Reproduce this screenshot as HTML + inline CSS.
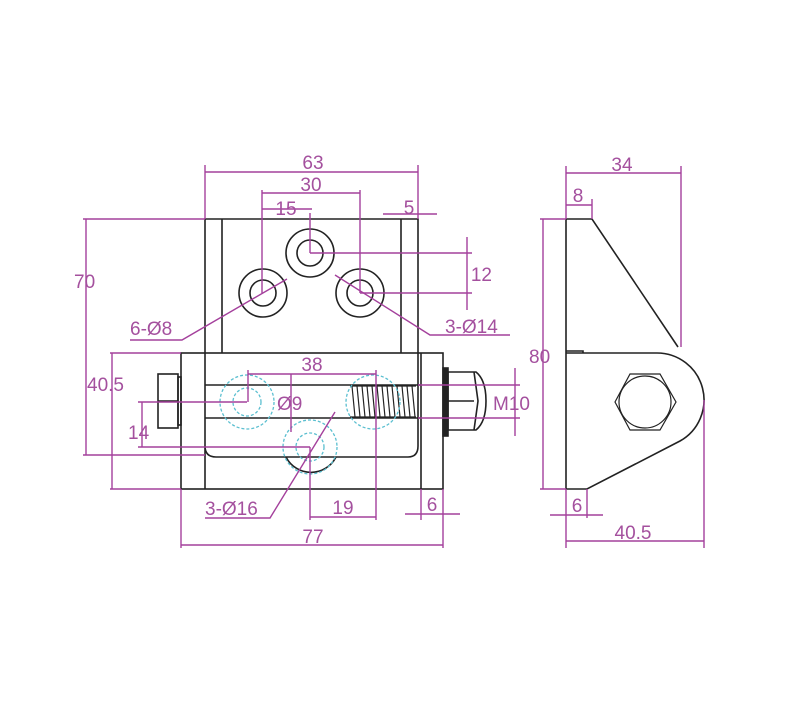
<!DOCTYPE html>
<html><head><style>
html,body{margin:0;padding:0;background:#fff;}
svg{display:block;}
text{font-family:"Liberation Sans",sans-serif;font-size:19px;fill:#a4509e;}
.d{stroke:#a4409c;stroke-width:1.4;fill:none;}
.k{stroke:#222;stroke-width:1.6;fill:none;}
.b{stroke:#5bbfd0;stroke-width:1.3;fill:none;stroke-dasharray:3 2;}
</style></head><body>
<svg width="800" height="720" viewBox="0 0 800 720" xmlns="http://www.w3.org/2000/svg">
<g class="k">
<path d="M205 353 V219 H418 V353"/>
<line x1="222" y1="219" x2="222" y2="353"/>
<line x1="401" y1="219" x2="401" y2="353"/>
<circle cx="310" cy="253" r="24"/><circle cx="310" cy="253" r="13"/>
<circle cx="263" cy="293" r="24"/><circle cx="263" cy="293" r="13"/>
<circle cx="360" cy="293" r="24"/><circle cx="360" cy="293" r="13"/>
<rect x="181" y="353" width="262" height="136"/>
<line x1="205" y1="353" x2="205" y2="489"/>
<line x1="421" y1="353" x2="421" y2="489"/>
<path d="M205 446 Q205 457 216 457 H408 Q418 457 418 446 V353"/>
<line x1="205" y1="385" x2="421" y2="385"/>
<line x1="205" y1="418" x2="421" y2="418"/>
<path d="M286 457 A28 28 0 0 0 336 457"/>
<rect x="158" y="374" width="20" height="54"/>
<line x1="158" y1="401" x2="178" y2="401"/>
<rect x="178" y="377" width="3" height="48"/>
<rect x="443" y="368" width="5" height="68" fill="#222"/>
<path d="M448 372 H476 Q486 380 486 401 Q486 422 476 430 H448 Z"/>
<line x1="448" y1="401" x2="474" y2="401"/>
<path d="M474 372 L478 401 L474 430"/>
</g>
<g stroke="#222" stroke-width="1.2" fill="none">
<path d="M352 386 l3 31 M357 386 l3 31 M362 386 l3 31 M367 386 l3 31 M372 386 l3 31 M377 386 l3 31 M382 386 l3 31 M387 386 l3 31 M392 386 l3 31 M397 386 l3 31 M402 386 l3 31 M407 386 l3 31 M412 386 l3 31"/>
<line x1="350" y1="386" x2="416" y2="386"/><line x1="350" y1="417" x2="416" y2="417"/>
</g>
<g class="b">
<circle cx="247" cy="402" r="27"/><circle cx="247" cy="402" r="14"/>
<circle cx="310" cy="447" r="27"/><circle cx="310" cy="447" r="14"/>
<circle cx="373" cy="402" r="27"/>
</g>
<g class="k">
<path d="M566 219 H592 L678 347"/>
<path d="M566 219 V489 H587 L680 441 A47 47 0 0 0 657 353 H566"/>
<path d="M566 351 H583 V353"/>
<polygon points="615,402 630,374 660,374 676,402 660,430 630,430" stroke-width="1.2"/>
<circle cx="645" cy="402" r="26" stroke-width="1.2"/>
</g>
<g class="d">
<line x1="205" y1="165" x2="205" y2="219"/><line x1="418" y1="165" x2="418" y2="219"/>
<line x1="205" y1="172" x2="418" y2="172"/>
<line x1="262" y1="190" x2="262" y2="293"/><line x1="360" y1="190" x2="360" y2="293"/>
<line x1="262" y1="193" x2="360" y2="193"/>
<line x1="262" y1="209" x2="312" y2="209"/><line x1="310" y1="213" x2="310" y2="253"/>
<line x1="383" y1="214" x2="437" y2="214"/>
<line x1="310" y1="253" x2="472" y2="253"/><line x1="360" y1="293" x2="472" y2="293"/>
<line x1="467" y1="237" x2="467" y2="310"/>
<line x1="83" y1="219" x2="205" y2="219"/><line x1="83" y1="455" x2="205" y2="455"/>
<line x1="86" y1="219" x2="86" y2="455"/>
<path d="M287 279 L182 340 H130"/>
<path d="M335 275 L430 335 H510"/>
<line x1="110" y1="353" x2="181" y2="353"/><line x1="110" y1="489" x2="181" y2="489"/>
<line x1="112" y1="353" x2="112" y2="489"/>
<line x1="138" y1="402" x2="247" y2="402"/><line x1="138" y1="447" x2="310" y2="447"/>
<line x1="142" y1="402" x2="142" y2="447"/>
<line x1="248" y1="370" x2="248" y2="402"/><line x1="376" y1="370" x2="376" y2="520"/>
<line x1="248" y1="374" x2="376" y2="374"/>
<line x1="291" y1="374" x2="291" y2="432"/>
<path d="M335 412 L270 518 H205"/>
<line x1="310" y1="447" x2="310" y2="520"/><line x1="310" y1="517" x2="376" y2="517"/>
<line x1="421" y1="489" x2="421" y2="520"/><line x1="443" y1="489" x2="443" y2="548"/>
<line x1="405" y1="514" x2="460" y2="514"/>
<line x1="181" y1="489" x2="181" y2="548"/><line x1="181" y1="545" x2="443" y2="545"/>
<line x1="418" y1="385" x2="520" y2="385"/><line x1="418" y1="418" x2="520" y2="418"/>
<line x1="515" y1="368" x2="515" y2="436"/>
<line x1="566" y1="166" x2="566" y2="219"/><line x1="681" y1="166" x2="681" y2="347"/>
<line x1="566" y1="173" x2="681" y2="173"/>
<line x1="592" y1="199" x2="592" y2="219"/><line x1="566" y1="205" x2="592" y2="205"/>
<line x1="540" y1="219" x2="566" y2="219"/><line x1="540" y1="489" x2="566" y2="489"/>
<line x1="543" y1="219" x2="543" y2="489"/>
<line x1="566" y1="489" x2="566" y2="548"/><line x1="587" y1="489" x2="587" y2="518"/>
<line x1="550" y1="515" x2="603" y2="515"/>
<line x1="704" y1="400" x2="704" y2="548"/><line x1="566" y1="541" x2="704" y2="541"/>
</g>
<text x="313" y="169" text-anchor="middle">63</text>
<text x="311" y="191" text-anchor="middle">30</text>
<text x="286" y="215" text-anchor="middle">15</text>
<text x="409" y="214" text-anchor="middle">5</text>
<text x="492" y="281" text-anchor="end">12</text>
<text x="74" y="288">70</text>
<text x="130" y="335">6-Ø8</text>
<text x="445" y="333">3-Ø14</text>
<text x="87" y="391">40.5</text>
<text x="128" y="439">14</text>
<text x="312" y="371" text-anchor="middle">38</text>
<text x="277" y="410">Ø9</text>
<text x="205" y="515">3-Ø16</text>
<text x="343" y="514" text-anchor="middle">19</text>
<text x="432" y="511" text-anchor="middle">6</text>
<text x="313" y="543" text-anchor="middle">77</text>
<text x="493" y="410">M10</text>
<text x="622" y="171" text-anchor="middle">34</text>
<text x="578" y="202" text-anchor="middle">8</text>
<text x="529" y="363">80</text>
<text x="577" y="512" text-anchor="middle">6</text>
<text x="633" y="539" text-anchor="middle">40.5</text>
</svg>
</body></html>
